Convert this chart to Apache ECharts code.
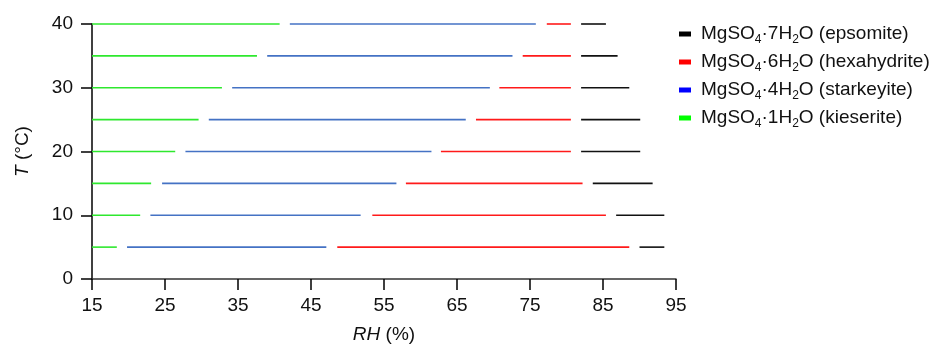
<!DOCTYPE html>
<html>
<head>
<meta charset="utf-8">
<script src="https://cdn.jsdelivr.net/npm/echarts@6/dist/echarts.min.js"></script>
<style>
  html, body { margin: 0; padding: 0; background: #fff; }
  #chart { width: 950px; height: 349px; }
</style>
</head>
<body>
<div id="chart"></div>
<script>
// Temperatures (°C) at which each stability range was measured
const temps = [5, 10, 15, 20, 25, 30, 35, 40];

// RH (%) range of each hydrate at each temperature
const kieseriteStart   = [15, 15, 15, 15, 15, 15, 15, 15];
const kieseriteEnd     = [18.4, 21.6, 23.1, 26.4, 29.6, 32.8, 37.6, 40.7];
const starkeyiteStart  = [19.8, 23.0, 24.6, 27.8, 31.0, 34.2, 39.0, 42.1];
const starkeyiteEnd    = [47.1, 51.8, 56.7, 61.5, 66.2, 69.5, 72.6, 75.8];
const hexahydriteStart = [48.6, 53.4, 58.0, 62.8, 67.6, 70.8, 74.0, 77.3];
const hexahydriteEnd   = [88.6, 85.4, 82.2, 80.6, 80.6, 80.6, 80.6, 80.6];
const epsomiteStart    = [90.0, 86.8, 83.6, 82.0, 82.0, 82.0, 82.0, 82.0];
const epsomiteEnd      = [93.4, 93.4, 91.8, 90.1, 90.1, 88.6, 87.0, 85.4];

// Legend entries, top to bottom
const phaseNames = ['epsomite', 'hexahydrite', 'starkeyite', 'kieserite'];
const phaseWater = { epsomite: '7', hexahydrite: '6', starkeyite: '4', kieserite: '1' };

const xTicks = { min: 15, max: 95, interval: 10 };
const yTicks = { min: 0, max: 40, interval: 10 };

function rows(starts, ends) {
  return temps.map((t, i) => [starts[i], ends[i], t]);
}

function segment(params, api) {
  const a = api.coord([api.value(0), api.value(2)]);
  const b = api.coord([api.value(1), api.value(2)]);
  return {
    type: 'line',
    shape: { x1: a[0], y1: a[1], x2: b[0], y2: b[1] },
    style: { stroke: api.visual('color'), lineWidth: 1.6 }
  };
}

function phaseSeries(name, color, starts, ends) {
  return {
    name: name,
    type: 'custom',
    renderItem: segment,
    itemStyle: { color: color },
    encode: { x: [0, 1], y: 2 },
    data: rows(starts, ends),
    animation: false
  };
}

const font = 'Liberation Sans, Arial, sans-serif';
const chart = echarts.init(document.getElementById('chart'), null, { renderer: 'canvas' });

chart.setOption({
  animation: false,
  grid: { left: 92, right: 274, top: 24, bottom: 67 },
  xAxis: {
    type: 'value',
    min: xTicks.min, max: xTicks.max, interval: xTicks.interval,
    name: '{i|RH} (%)',
    nameLocation: 'middle',
    nameGap: 46,
    nameTextStyle: {
      fontFamily: font, fontSize: 19, color: '#111',
      rich: { i: { fontFamily: font, fontSize: 19, fontStyle: 'italic', color: '#111' } }
    },
    axisLine: { show: true, lineStyle: { color: '#333', width: 1.5 } },
    axisTick: { show: true, length: 11, lineStyle: { color: '#000', width: 1.5 } },
    axisLabel: { margin: 17, fontFamily: font, fontSize: 19, color: '#111' },
    splitLine: { show: false }
  },
  yAxis: {
    type: 'value',
    min: yTicks.min, max: yTicks.max, interval: yTicks.interval,
    name: '{i|T} (°C)',
    nameLocation: 'middle',
    nameRotate: 90,
    nameGap: 60,
    nameTextStyle: {
      fontFamily: font, fontSize: 19, color: '#111',
      rich: { i: { fontFamily: font, fontSize: 19, fontStyle: 'italic', color: '#111' } }
    },
    axisLine: { show: true, lineStyle: { color: '#000', width: 1.5 } },
    axisTick: { show: true, length: 11, lineStyle: { color: '#000', width: 1.5 } },
    axisLabel: { margin: 19, fontFamily: font, fontSize: 19, color: '#111' },
    splitLine: { show: false }
  },
  legend: {
    orient: 'vertical',
    left: 674,
    top: 17,
    itemWidth: 12,
    itemHeight: 5,
    itemGap: 4,
    icon: 'rect',
    data: [
      { name: 'epsomite', itemStyle: { color: '#000000' } },
      { name: 'hexahydrite', itemStyle: { color: '#ff0000' } },
      { name: 'starkeyite', itemStyle: { color: '#0000ff' } },
      { name: 'kieserite', itemStyle: { color: '#00ff00' } }
    ],
    formatter: function (name) {
      return 'MgSO{s|4}·' + phaseWater[name] + 'H{s|2}O (' + name + ')';
    },
    textStyle: {
      fontFamily: font, fontSize: 19, color: '#111',
      lineHeight: 24,
      padding: [0, 0, 0, 5],
      rich: {
        s: { fontFamily: font, fontSize: 12, color: '#111', verticalAlign: 'bottom', lineHeight: 14, padding: [0, 0, 0, 0] }
      }
    }
  },
  series: [
    phaseSeries('kieserite', '#2ee82e', kieseriteStart, kieseriteEnd),
    phaseSeries('starkeyite', '#4472c4', starkeyiteStart, starkeyiteEnd),
    phaseSeries('hexahydrite', '#ff1a1a', hexahydriteStart, hexahydriteEnd),
    phaseSeries('epsomite', '#111111', epsomiteStart, epsomiteEnd)
  ]
});
</script>
</body>
</html>
